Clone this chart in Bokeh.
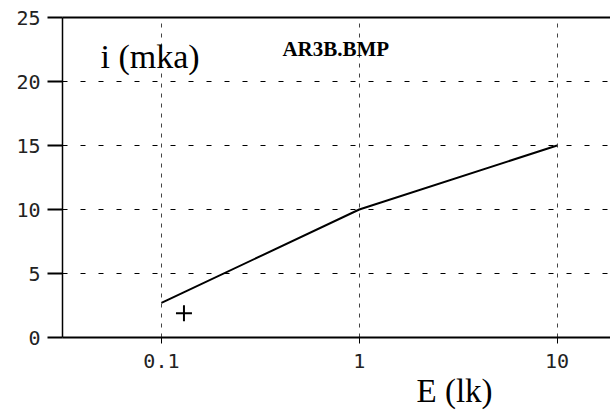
from bokeh.plotting import figure
from bokeh.models import Range1d, FixedTicker, LinearAxis, Label, Title
from bokeh.embed import file_html
from bokeh.resources import INLINE

# photocurrent vs illuminance
E_lk = [0.1, 1, 10]
i_mka = [2.7, 10, 15]

# single measured point
pt_E = [0.13]
pt_i = [1.9]

x_ticks = [0.1, 1, 10]
x_tick_labels = {0.1: "0.1", 1: "1", 10: "10"}
y_ticks = [0, 5, 10, 15, 20, 25]

p = figure(width=610, height=416, x_axis_type="log",
           x_range=Range1d(10 ** -1.5, 10 ** 1.27), y_range=Range1d(0, 25),
           output_backend="svg", toolbar_location=None,
           min_border_left=62, min_border_right=0,
           min_border_top=17, min_border_bottom=79)
p.outline_line_color = None
p.background_fill_color = "white"
p.border_fill_color = "white"

tick_font = "DejaVu Sans Mono"
serif = "Liberation Serif"

xa = p.xaxis[0]
xa.ticker = FixedTicker(ticks=x_ticks, minor_ticks=[])
xa.major_label_overrides = x_tick_labels
xa.axis_line_width = 2
xa.axis_line_color = "black"
xa.major_tick_in = 0
xa.major_tick_out = 6
xa.minor_tick_line_color = None
xa.major_label_standoff = 10
xa.major_label_text_font = tick_font
xa.major_label_text_font_size = "20px"
xa.major_label_text_color = "#222222"

ya = p.yaxis[0]
ya.ticker = FixedTicker(ticks=y_ticks, minor_ticks=[])
ya.axis_line_width = 1.5
ya.axis_line_color = "black"
ya.major_tick_in = 0
ya.major_tick_out = 15
ya.major_tick_line_width = 2
ya.minor_tick_line_color = None
ya.major_label_standoff = 7
ya.major_label_text_font = tick_font
ya.major_label_text_font_size = "20px"
ya.major_label_text_color = "#222222"

# top border line
top = LinearAxis(ticker=FixedTicker(ticks=[]), axis_line_width=2,
                 major_tick_line_color=None, minor_tick_line_color=None,
                 major_label_text_font_size="0px")
p.add_layout(top, "above")

p.xgrid.ticker = FixedTicker(ticks=x_ticks)
p.xgrid.grid_line_color = "#444444"
p.xgrid.grid_line_dash = "4 6"
p.xgrid.grid_line_width = 1
p.ygrid.ticker = FixedTicker(ticks=[5, 10, 15, 20])
p.ygrid.grid_line_color = "black"
p.ygrid.grid_line_dash = "5 13"
p.ygrid.grid_line_width = 1

p.line(E_lk, i_mka, line_color="black", line_width=2)
p.scatter(pt_E, pt_i, marker="cross", size=16, line_color="black", line_width=2)

p.add_layout(Label(x=0.0492, y=20.5, text="i (mka)", text_font=serif,
                   text_font_size="34px", text_color="black",
                   text_baseline="bottom"))
p.add_layout(Label(x=0.409, y=21.6, text="AR3B.BMP", text_font=serif,
                   text_font_style="bold", text_font_size="21px", text_color="black",
                   text_baseline="bottom"))

# x-axis caption, placed toward the right under the axis
p.add_layout(Title(text="E (lk)", align="left", offset=354, standoff=0,
                   text_font=serif, text_font_style="normal",
                   text_font_size="33px", text_color="black"), "below")

open("out.html", "w").write(file_html(p, INLINE))
